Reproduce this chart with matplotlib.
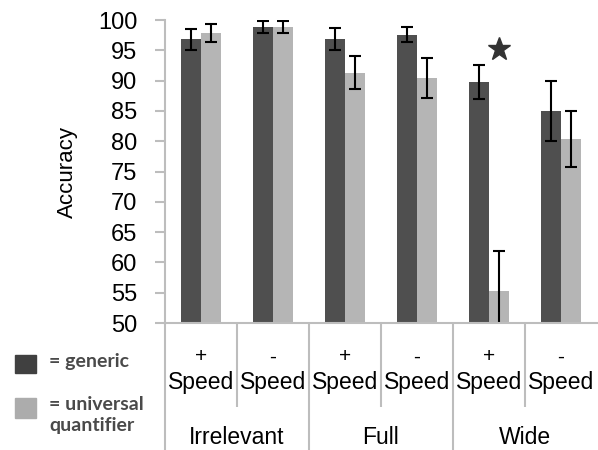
import matplotlib
matplotlib.use("Agg")
import matplotlib.pyplot as plt
import matplotlib.transforms as mtransforms
from matplotlib.patches import Rectangle
import numpy as np

conditions = ["Irrelevant", "Full", "Wide"]
speed_signs = ["+", "-", "+", "-", "+", "-"]
speed_word = "Speed"
generic = [96.8, 98.8, 96.8, 97.6, 89.8, 85.0]
generic_err = [1.7, 1.0, 1.8, 1.2, 2.8, 5.0]
universal = [97.9, 98.8, 91.3, 90.5, 55.3, 80.4]
universal_err = [1.5, 1.0, 2.7, 3.3, 6.5, 4.6]
yticks = list(range(50, 101, 5))
star_index = 4
star_value = 95.2
legend_labels = ["= generic", "= universal", "quantifier"]

dark = "#4f4f4f"
light = "#b5b5b5"
grid_gray = "#bdbdbd"
font = "Liberation Sans"

W, H = 598, 450
fig = plt.figure(figsize=(W / 100, H / 100), dpi=100)
ax_left, ax_right, ax_top, ax_bottom = 165, 597, 20, 323
ax = fig.add_axes([ax_left / W, (H - ax_bottom) / H,
                   (ax_right - ax_left) / W, (ax_bottom - ax_top) / H])

n = len(generic)
x = np.arange(n) + 0.5
bw = 20 / 72
ekw = dict(ecolor="black", elinewidth=1.5, capsize=4.5, capthick=1.5)
ax.bar(x - bw / 2, generic, bw, bottom=0, color=dark, yerr=generic_err,
       error_kw=ekw, zorder=2)
ax.bar(x + bw / 2, universal, bw, bottom=0, color=light, yerr=universal_err,
       error_kw=ekw, zorder=2)

ax.plot([x[star_index] + bw / 2], [star_value], marker="*", markersize=17,
        color="#333333", linestyle="none", zorder=3)

ax.set_xlim(0, n)
ax.set_ylim(50, 100)
ax.set_yticks(yticks)
ax.set_yticklabels([str(t) for t in yticks], fontsize=17, family=font)
ax.tick_params(axis="y", length=7, width=1.5, color=grid_gray, pad=13)
ax.set_xticks([])
for s in ["top", "right"]:
    ax.spines[s].set_visible(False)
ax.spines["left"].set_color(grid_gray)
ax.spines["left"].set_linewidth(1.5)
ax.spines["bottom"].set_color(grid_gray)
ax.spines["bottom"].set_linewidth(1.5)
ax.set_ylabel("Accuracy", fontsize=16, family=font, labelpad=14)

trans = mtransforms.blended_transform_factory(ax.transData, ax.transAxes)
hpx = ax_bottom - ax_top
def ay(px):
    return (ax_bottom - px) / hpx

# separators below the axis
for xv in range(0, n):
    end = 450 if xv % 2 == 0 else 405
    ax.plot([xv, xv], [0, ay(end + 2)], transform=trans, color=grid_gray,
            lw=1.5, clip_on=False, solid_capstyle="butt")

for i in range(n):
    ax.text(x[i], ay(357), speed_signs[i], transform=trans, ha="center",
            va="center", fontsize=15, family=font)
    ax.text(x[i], ay(382), speed_word, transform=trans, ha="center",
            va="center", fontsize=16.5, family=font)
for j, c in enumerate(conditions):
    ax.text(2 * j + 1, ay(438), c, transform=trans, ha="center", va="center",
            fontsize=16.5, family=font)

# legend
def fy(px):
    return (H - px) / H
fig.patches.append(Rectangle((15 / W, fy(373)), 21 / W, 18 / H,
                             transform=fig.transFigure, color="#404040"))
fig.patches.append(Rectangle((15 / W, fy(418)), 21 / W, 20 / H,
                             transform=fig.transFigure, color="#acacac"))
lkw = dict(ha="left", va="center", fontsize=14, family="Lato",
           fontweight="bold", color="#4a4a4a")
fig.text(49 / W, fy(362), legend_labels[0], **lkw)
fig.text(49 / W, fy(405), legend_labels[1], **lkw)
fig.text(49 / W, fy(426), legend_labels[2], **lkw)

fig.savefig("out.png", dpi=100)
